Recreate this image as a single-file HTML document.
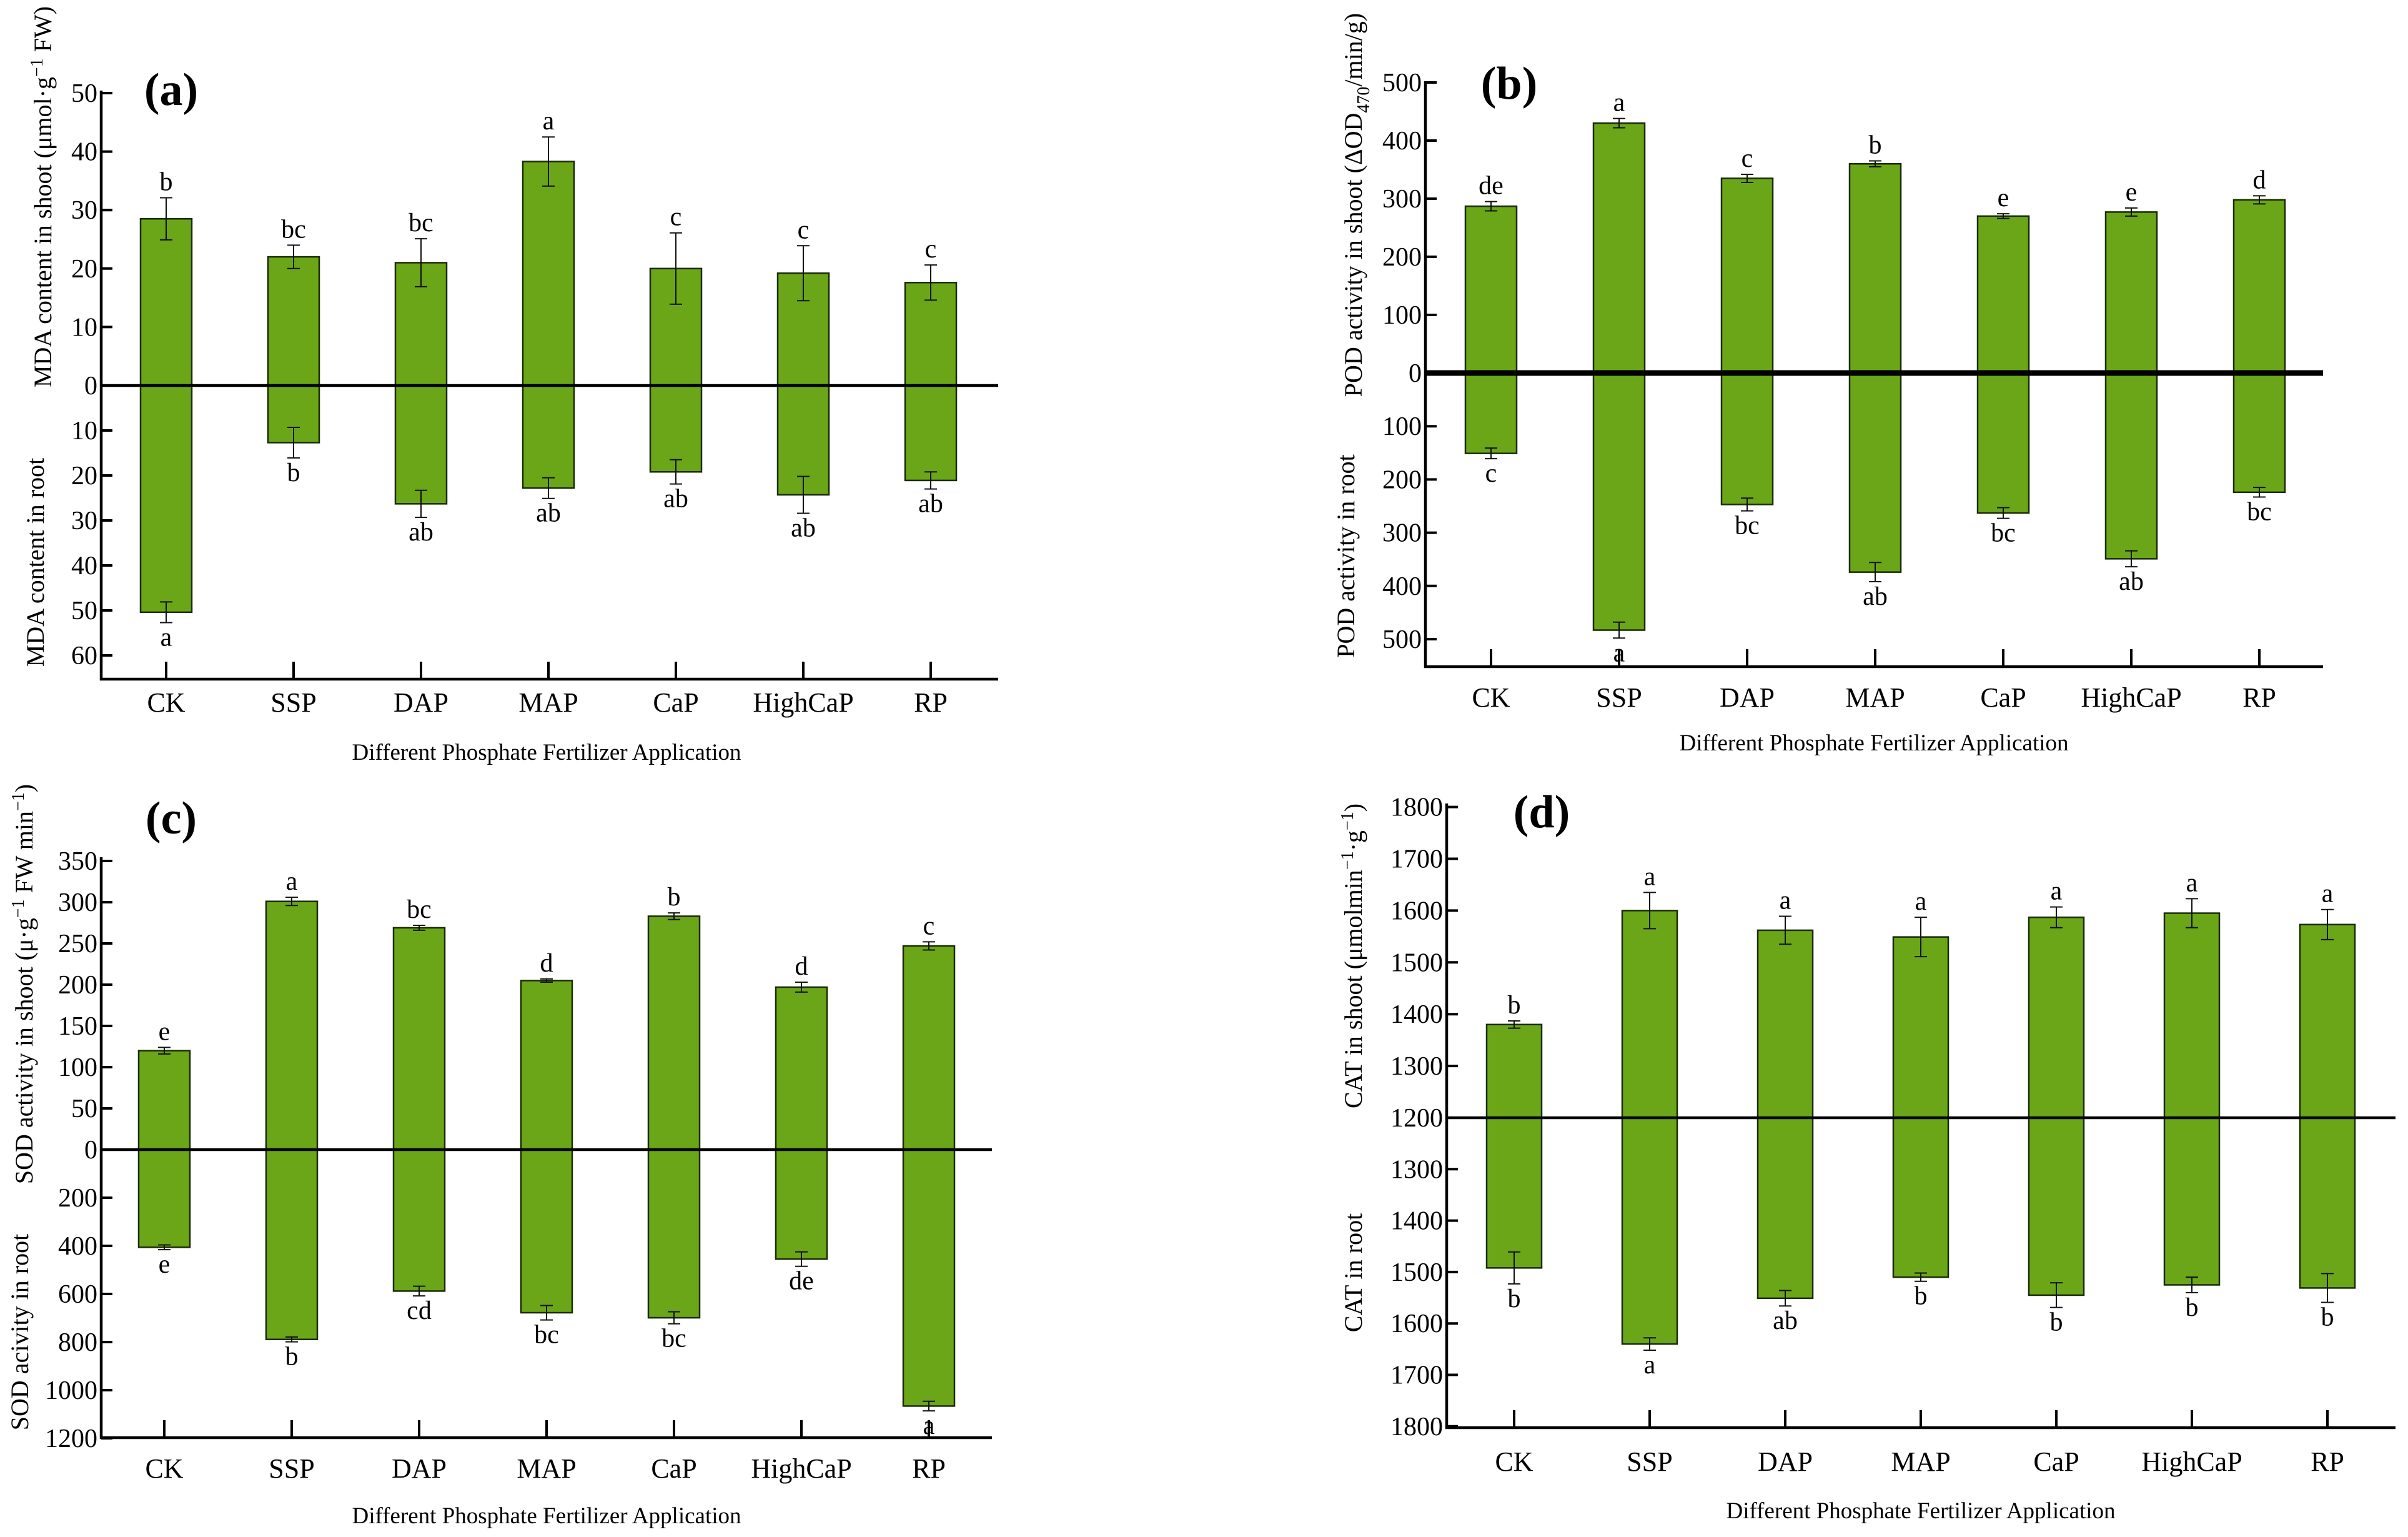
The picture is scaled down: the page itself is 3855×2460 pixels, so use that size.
<!DOCTYPE html>
<html><head><meta charset="utf-8">
<style>
html,body{margin:0;padding:0;background:#fff;}
svg{display:block;font-family:"Liberation Serif",serif;}
</style></head>
<body>
<svg id="fig" width="3855" height="2460" viewBox="0 0 3855 2460" xmlns="http://www.w3.org/2000/svg"></svg>
<script>
const categories = ["CK","SSP","DAP","MAP","CaP","HighCaP","RP"];
// Panel a: MDA
const aShoot = [28.5,22,21,38.3,20,19.2,17.6];
const aShootErr = [3.6,2,4.1,4.2,6.1,4.7,3];
const aShootLetters = ["b","bc","bc","a","c","c","c"];
const aRoot = [50.4,12.7,26.3,22.8,19.2,24.3,21.1];
const aRootErr = [2.3,3.4,3,2.3,2.7,4.1,1.9];
const aRootLetters = ["a","b","ab","ab","ab","ab","ab"];
const aShootTicks = [10,20,30,40,50];
const aRootTicks = [10,20,30,40,50,60];
// Panel b: POD
const bShoot = [287,430,335,360,270,277,298];
const bShootErr = [8,8,7,5,4,7,7];
const bShootLetters = ["de","a","c","b","e","e","d"];
const bRoot = [151,483,247,374,263,349,224];
const bRootErr = [10,15,12,18,10,15,9];
const bRootLetters = ["c","a","bc","ab","bc","ab","bc"];
const bShootTicks = [100,200,300,400,500];
const bRootTicks = [100,200,300,400,500];
// Panel c: SOD
const cShoot = [120,301,269,205,283,197,247];
const cShootErr = [4,5,3,2,4,6,5];
const cShootLetters = ["e","a","bc","d","b","d","c"];
const cRoot = [406,789,588,678,699,455,1066];
const cRootErr = [10,10,20,30,25,30,20];
const cRootLetters = ["e","b","cd","bc","bc","de","a"];
const cShootTicks = [50,100,150,200,250,300,350];
const cRootTicks = [200,400,600,800,1000,1200];
// Panel d: CAT
const dShoot = [1380,1600,1562,1549,1587,1595,1573];
const dShootErr = [7,35,27,38,20,28,29];
const dShootLetters = ["b","a","a","a","a","a","a"];
const dRoot = [1492,1640,1551,1510,1545,1525,1531];
const dRootErr = [31,12,15,8,24,15,28];
const dRootLetters = ["b","a","ab","b","b","b","b"];
const dShootTicks = [1300,1400,1500,1600,1700,1800];
const dRootTicks = [1300,1400,1500,1600,1700,1800];

const NS = "http://www.w3.org/2000/svg";
const svg = document.getElementById("fig");
function mk(tag, attrs, parent, text){
  const e = document.createElementNS(NS, tag);
  for (const k in attrs) e.setAttribute(k, attrs[k]);
  if (text !== undefined) e.textContent = text;
  (parent||svg).appendChild(e);
  return e;
}

function panel(p){
  const g = mk("g", {});
  
  
  const yS = v => p.zeroS - (v - p.base) * p.kS;
  const yR = v => p.zeroR + (v - p.base) * p.kR;
  const xC = i => p.x0 + i * p.dx;
  categories.forEach((c, i) => {
    const x = xC(i) - p.bw/2;
    const top = yS(p.shoot[i]);
    const r1 = mk("rect", {x:x, y:top, width:p.bw, height:p.zeroS-top, fill:"#6aa617", stroke:"#1a2a05", "stroke-width":2.5}, g);
    
    
    const bot = yR(p.base + p.root[i]);
    const r2 = mk("rect", {x:x, y:p.zeroR, width:p.bw, height:bot-p.zeroR, fill:"#6aa617", stroke:"#1a2a05", "stroke-width":2.5}, g);
    
    
    const cx = xC(i);
    const e1 = yS(p.shoot[i] + p.shootErr[i]), e2 = yS(p.shoot[i] - p.shootErr[i]);
    const eb = mk("g", {stroke:"#111", "stroke-width":2}, g);
    
    
    mk("line", {x1:cx, x2:cx, y1:e1, y2:e2}, eb);
    mk("line", {x1:cx-10, x2:cx+10, y1:e1, y2:e1}, eb);
    mk("line", {x1:cx-10, x2:cx+10, y1:e2, y2:e2}, eb);
    const f1 = yR(p.base + p.root[i] + p.rootErr[i]), f2 = yR(p.base + p.root[i] - p.rootErr[i]);
    mk("line", {x1:cx, x2:cx, y1:f1, y2:f2}, eb);
    mk("line", {x1:cx-10, x2:cx+10, y1:f1, y2:f1}, eb);
    mk("line", {x1:cx-10, x2:cx+10, y1:f2, y2:f2}, eb);
    const l1 = mk("text", {x:cx, y:e1-12, "text-anchor":"middle", "font-size":42}, g, p.shootL[i]);
    
    
    const l2 = mk("text", {x:cx, y:f1+37, "text-anchor":"middle", "font-size":42}, g, p.rootL[i]);
    
    
    mk("line", {x1:cx, x2:cx, y1:p.bottom, y2:p.bottom-28, stroke:"#000", "stroke-width":4}, g);
    const cl = mk("text", {x:cx, y:p.catY, "text-anchor":"middle", "font-size":44}, g, c);
    
    
  });
  const ax = mk("path", {d:`M${p.left},${p.axTop} V${p.bottom} H${p.right}`, fill:"none", stroke:"#000", "stroke-width":4.5}, g);
  
  
  const zl = mk("line", {x1:p.left, x2:p.right, y1:(p.zeroS+p.zeroR)/2, y2:(p.zeroS+p.zeroR)/2, stroke:"#000", "stroke-width":p.zw}, g);
  
  
  const tk = (y, lab) => {
    mk("line", {x1:p.left, x2:p.left+18, y1:y, y2:y, stroke:"#000", "stroke-width":4}, g);
    const t = mk("text", {x:p.left-6, y:y+14, "text-anchor":"end", "font-size":42}, g, lab);
    
    
  };
  tk((p.zeroS+p.zeroR)/2, String(p.base));
  p.sT.forEach(v => tk(yS(v), String(v)));
  p.rT.forEach(v => tk(yR(v), String(v)));
  const t1 = mk("text", {transform:`translate(${p.t1x},${p.t1y}) rotate(-90)`, "text-anchor":"middle", "font-size":40}, g);
  t1.innerHTML = p.t1;
  
  
  const t2 = mk("text", {transform:`translate(${p.t2x},${p.t2y}) rotate(-90)`, "text-anchor":"middle", "font-size":40}, g, p.t2);
  
  
  const xt = mk("text", {x:p.xtX, y:p.xtY, "text-anchor":"middle", "font-size":37}, g, "Different Phosphate Fertilizer Application");
  
  
  const pl = mk("text", {x:p.plX, y:p.plY, "text-anchor":"middle", "font-size":74, "font-weight":"bold"}, g, "(" + p.id + ")");
  
  
}

panel({id:"a", base:0, shoot:aShoot, shootErr:aShootErr, shootL:aShootLetters, root:aRoot, rootErr:aRootErr, rootL:aRootLetters,
  sT:aShootTicks, rT:aRootTicks, zeroS:617, zeroR:617, kS:9.36, kR:7.2, zw:4.5,
  x0:266, dx:204, bw:82, left:162, right:1598, axTop:145, bottom:1087, catY:1139,
  t1:'MDA content  in shoot (μmol·g<tspan dy="-14" font-size="28">−1</tspan><tspan dy="14"> FW)</tspan>', t1x:82, t1y:315,
  t2:"MDA content in root", t2x:70, t2y:900, xtX:875, xtY:1216, plX:274, plY:168});
panel({id:"b", base:0, shoot:bShoot, shootErr:bShootErr, shootL:bShootLetters, root:bRoot, rootErr:bRootErr, rootL:bRootLetters,
  sT:bShootTicks, rT:bRootTicks, zeroS:597, zeroR:597, kS:0.93, kR:0.852, zw:9,
  x0:2387, dx:205, bw:82, left:2282, right:3719, axTop:130, bottom:1067, catY:1131,
  t1:'POD activity in shoot (ΔOD<tspan dy="12" font-size="28">470</tspan><tspan dy="-12">/min/g)</tspan>', t1x:2180, t1y:328,
  t2:"POD activity in root", t2x:2168, t2y:890, xtX:3000, xtY:1201, plX:2416, plY:158});
panel({id:"c", base:0, shoot:cShoot, shootErr:cShootErr, shootL:cShootLetters, root:cRoot, rootErr:cRootErr, rootL:cRootLetters,
  sT:cShootTicks, rT:cRootTicks, zeroS:1840, zeroR:1840, kS:1.32, kR:0.385, zw:4.5,
  x0:263, dx:204, bw:82, left:162, right:1588, axTop:1372, bottom:2301, catY:2365,
  t1:'SOD activity in shoot (μ·g<tspan dy="-14" font-size="28">−1</tspan><tspan dy="14"> FW min</tspan><tspan dy="-14" font-size="28">−1</tspan><tspan dy="14">)</tspan>', t1x:52, t1y:1575,
  t2:"SOD acivity in root", t2x:45, t2y:2132, xtX:875, xtY:2438, plX:274, plY:1334});
panel({id:"d", base:1200, shoot:dShoot, shootErr:dShootErr, shootL:dShootLetters, root:dRoot.map(v=>v-1200), rootErr:dRootErr, rootL:dRootLetters,
  sT:dShootTicks, rT:dRootTicks, zeroS:1789, zeroR:1789, kS:0.829, kR:0.823, zw:4.5,
  x0:2424, dx:217, bw:88, left:2316, right:3835, axTop:1286, bottom:2285, catY:2354,
  t1:'CAT in shoot (μmolmin<tspan dy="-14" font-size="28">−1</tspan><tspan dy="14">·g</tspan><tspan dy="-14" font-size="28">−1</tspan><tspan dy="14">)</tspan>', t1x:2180, t1y:1530,
  t2:"CAT in root", t2x:2180, t2y:2037, xtX:3075, xtY:2430, plX:2468, plY:1324});
</script>
</body></html>
